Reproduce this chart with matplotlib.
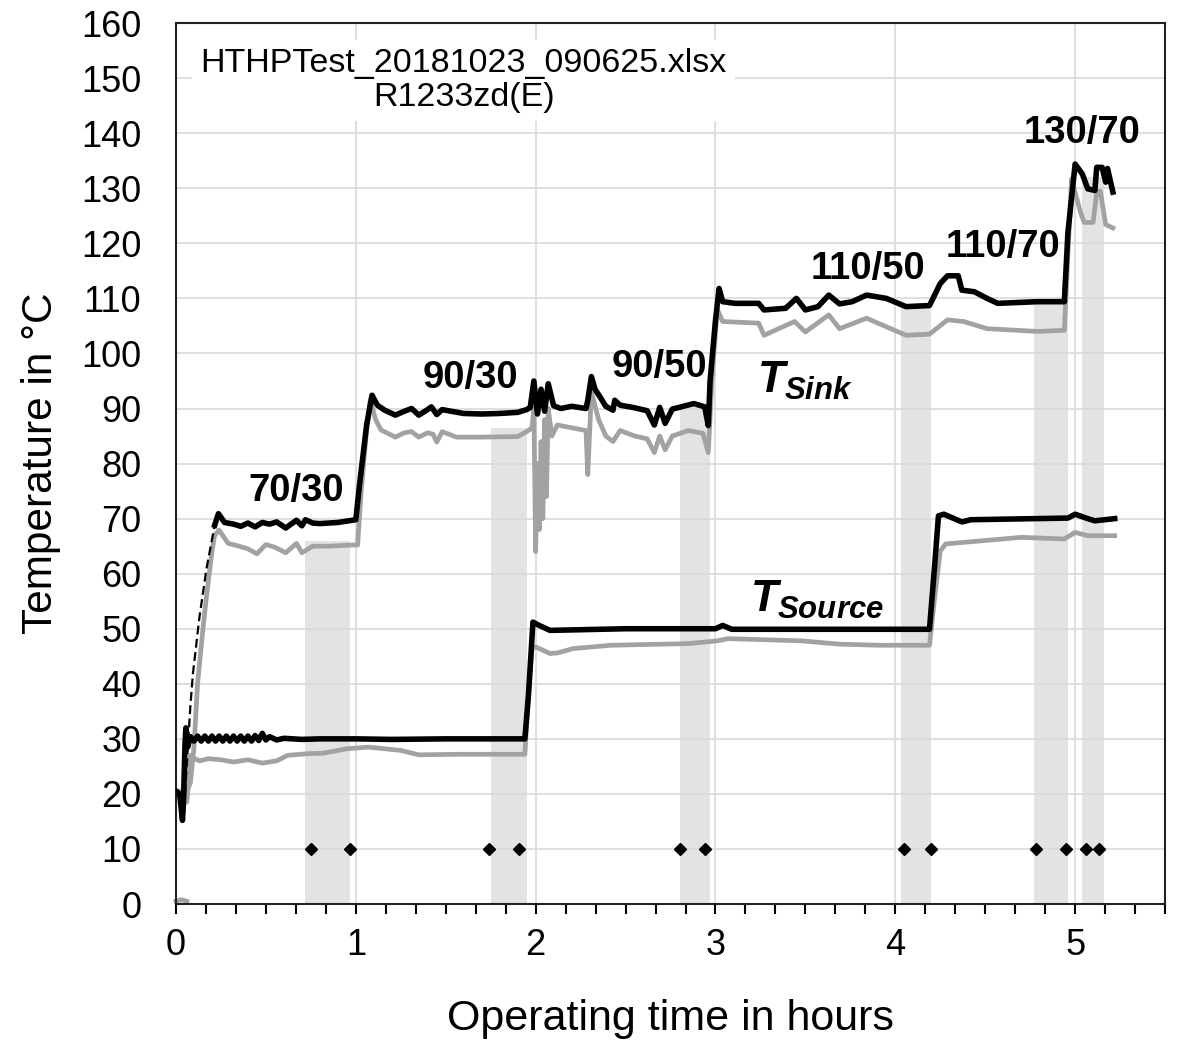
import matplotlib
matplotlib.use("Agg")
import matplotlib.pyplot as plt
from matplotlib.ticker import MultipleLocator
import numpy as np

sink_out = [(0.215, 68.8), (0.236, 70.9), (0.27, 69.3), (0.32, 69.0), (0.36, 68.6), (0.40, 69.2),
            (0.44, 68.5), (0.48, 69.3), (0.52, 69.0), (0.56, 69.4), (0.61, 68.3), (0.64, 69.0),
            (0.67, 69.7), (0.70, 68.7), (0.72, 69.8), (0.76, 69.2), (0.80, 69.1), (0.90, 69.3),
            (0.98, 69.7), (1.00, 69.8), (1.02, 76.0), (1.06, 87.0), (1.09, 92.4), (1.12, 90.6),
            (1.16, 89.7), (1.22, 88.8), (1.27, 89.5), (1.31, 90.0), (1.35, 88.8), (1.39, 89.6),
            (1.42, 90.3), (1.45, 88.9), (1.48, 89.8), (1.53, 89.5), (1.60, 89.1), (1.70, 89.0),
            (1.80, 89.1), (1.90, 89.3), (1.95, 89.8), (1.97, 90.2), (1.99, 95.0), (2.01, 89.0),
            (2.03, 93.5), (2.05, 89.5), (2.07, 94.5), (2.10, 90.5), (2.14, 90.0), (2.20, 90.4),
            (2.28, 90.0), (2.29, 91.5), (2.31, 95.8), (2.33, 93.5), (2.36, 92.0), (2.39, 90.4),
            (2.43, 89.7), (2.44, 91.5), (2.47, 90.6), (2.54, 90.2), (2.62, 89.6), (2.66, 87.0),
            (2.69, 90.2), (2.72, 87.3), (2.76, 89.9), (2.81, 90.3), (2.88, 90.9), (2.94, 90.3),
            (2.96, 86.9), (2.97, 95.0), (3.00, 106.0), (3.02, 111.8), (3.04, 109.4), (3.11, 109.1),
            (3.24, 109.1), (3.27, 107.9), (3.39, 108.2), (3.45, 110.0), (3.50, 107.9), (3.57, 108.5),
            (3.63, 110.6), (3.69, 109.0), (3.76, 109.4), (3.84, 110.6), (3.95, 110.0), (4.06, 108.5),
            (4.19, 108.7), (4.25, 112.7), (4.29, 114.1), (4.35, 114.1), (4.37, 111.5), (4.44, 111.2),
            (4.51, 110.0), (4.57, 109.1), (4.79, 109.4), (4.94, 109.4), (4.96, 122.0), (5.00, 134.4),
            (5.04, 132.6), (5.07, 129.9), (5.11, 129.6), (5.12, 133.8), (5.15, 133.8), (5.17, 131.1),
            (5.18, 133.6), (5.21, 129.3)]

sink_ramp = [(0.05, 20.0), (0.08, 36.0), (0.094, 41.8), (0.13, 52.0), (0.17, 61.0), (0.215, 68.8)]

sink_in = [(0.0, 20.5), (0.06, 20.5), (0.08, 22.0), (0.10, 28.5), (0.12, 40.0), (0.15, 50.0),
           (0.17, 56.0), (0.20, 64.0), (0.215, 67.0), (0.24, 67.9), (0.29, 65.5), (0.35, 65.0),
           (0.40, 64.5), (0.45, 63.6), (0.50, 65.3), (0.55, 64.8), (0.61, 63.8), (0.67, 65.5),
           (0.70, 63.8), (0.76, 65.0), (0.85, 65.0), (0.98, 65.2), (1.01, 65.2), (1.03, 75.0),
           (1.06, 86.0), (1.08, 91.5), (1.11, 88.0), (1.14, 86.1), (1.22, 84.8), (1.27, 85.6),
           (1.31, 85.8), (1.35, 84.8), (1.40, 85.6), (1.43, 85.3), (1.45, 83.9), (1.48, 85.8),
           (1.56, 84.8), (1.70, 84.8), (1.90, 84.9), (1.95, 85.8), (1.98, 86.5), (1.99, 90.0),
           (2.00, 64.0), (2.01, 80.0), (2.02, 68.0), (2.03, 84.0), (2.04, 70.0), (2.05, 88.0),
           (2.06, 74.0), (2.07, 90.0), (2.09, 85.0), (2.12, 87.0), (2.20, 86.5), (2.28, 86.0),
           (2.29, 78.0), (2.31, 93.0), (2.35, 88.0), (2.39, 85.0), (2.43, 84.0), (2.47, 86.0),
           (2.55, 85.0), (2.62, 84.5), (2.66, 82.0), (2.69, 85.0), (2.72, 82.5), (2.76, 85.0),
           (2.85, 86.0), (2.93, 85.5), (2.96, 82.0), (2.98, 95.0), (3.01, 108.0), (3.04, 105.8),
           (3.24, 105.5), (3.27, 103.3), (3.44, 105.8), (3.50, 103.9), (3.63, 107.0), (3.69, 104.5),
           (3.84, 106.4), (4.06, 103.3), (4.19, 103.5), (4.29, 106.1), (4.38, 105.8), (4.51, 104.5),
           (4.79, 104.0), (4.94, 104.2), (4.96, 118.0), (4.98, 131.7), (5.03, 125.6), (5.05, 123.8),
           (5.10, 123.8), (5.12, 129.3), (5.14, 129.5), (5.17, 123.4), (5.21, 122.8)]

source_in = [(0.0, 20.5), (0.02, 20.0), (0.03, 17.0), (0.036, 15.2), (0.042, 19.0), (0.05, 29.0),
             (0.055, 32.0), (0.065, 28.5), (0.08, 30.4), (0.10, 29.6), (0.12, 30.5), (0.14, 29.6),
             (0.16, 30.5), (0.18, 29.6), (0.20, 30.5), (0.22, 29.6), (0.24, 30.5), (0.26, 29.6),
             (0.28, 30.5), (0.30, 29.6), (0.32, 30.5), (0.34, 29.6), (0.36, 30.5), (0.38, 29.6),
             (0.40, 30.5), (0.42, 29.6), (0.44, 30.6), (0.46, 29.7), (0.48, 31.0), (0.50, 29.8),
             (0.52, 30.4), (0.56, 29.8), (0.60, 30.1), (0.70, 29.9), (0.80, 30.0), (1.00, 30.0),
             (1.20, 29.9), (1.50, 30.0), (1.94, 30.0), (1.96, 38.0), (1.985, 51.2), (2.02, 50.6),
             (2.08, 49.7), (2.50, 50.0), (3.00, 50.0), (3.04, 50.6), (3.09, 49.9), (4.19, 49.9),
             (4.22, 62.0), (4.24, 70.5), (4.27, 70.8), (4.32, 70.1), (4.37, 69.4), (4.42, 69.8),
             (4.96, 70.1), (5.00, 70.8), (5.07, 70.0), (5.11, 69.6), (5.22, 70.0)]

source_out = [(0.0, 20.5), (0.03, 19.5), (0.04, 16.5), (0.05, 21.0), (0.06, 18.5), (0.07, 22.0),
              (0.08, 27.0), (0.10, 26.5), (0.13, 26.0), (0.18, 26.4), (0.25, 26.2), (0.32, 25.8),
              (0.40, 26.2), (0.48, 25.6), (0.56, 26.0), (0.62, 27.0), (0.73, 27.3), (0.82, 27.4),
              (0.95, 28.2), (1.07, 28.5), (1.25, 27.9), (1.35, 27.1), (1.57, 27.2), (1.94, 27.2),
              (1.96, 38.0), (1.98, 46.5), (2.00, 46.7), (2.08, 45.5), (2.12, 45.6), (2.21, 46.4),
              (2.42, 47.0), (2.85, 47.3), (3.01, 47.8), (3.07, 48.2), (3.48, 47.8), (3.69, 47.2),
              (3.91, 47.0), (4.19, 47.0), (4.22, 56.0), (4.25, 64.1), (4.28, 65.4), (4.42, 65.8),
              (4.70, 66.6), (4.94, 66.3), (5.00, 67.5), (5.07, 66.9), (5.22, 66.9)]

offline_t = [0.0, 0.03, 0.06]
offline_v = [0.5, 0.8, 0.5]

# steady-state evaluation windows
band_start = [0.72, 1.75, 2.80, 4.03, 4.77, 5.04]
band_end = [0.97, 1.95, 2.97, 4.20, 4.96, 5.16]
band_top = [66.0, 86.5, 90.5, 109.0, 109.6, 132.0]

marker_t = [0.75, 0.97, 1.74, 1.91, 2.80, 2.94, 4.05, 4.20, 4.78, 4.95, 5.06, 5.13]
marker_v = [10] * len(marker_t)

op_labels = ["70/30", "90/30", "90/50", "110/50", "110/70", "130/70"]
op_x = [0.67, 1.64, 2.69, 3.85, 4.60, 5.04]
op_y = [75.1, 95.5, 97.6, 115.4, 119.4, 140.0]

plt.rcParams['font.family'] = ['Liberation Sans', 'DejaVu Sans']
plt.rcParams['mathtext.fontset'] = 'custom'
plt.rcParams['mathtext.it'] = 'Liberation Sans:bold:italic'
plt.rcParams['mathtext.rm'] = 'Liberation Sans:bold:italic'

fig = plt.figure(figsize=(11.78, 10.45), dpi=100)
ax = fig.add_axes([0.1494, 0.1349, 0.8396, 0.843])
ax.set_axisbelow('line')

widths = [e - s for s, e in zip(band_start, band_end)]
ax.bar(band_start, band_top, width=widths, align='edge', color='#e3e3e3', zorder=1)

grey = '#a2a2a2'
lw = 3.4
t, v = zip(*sink_in)
ax.plot(t, v, color=grey, lw=lw, zorder=2)
t, v = zip(*source_out)
ax.plot(t, v, color=grey, lw=lw, zorder=2)
ax.plot(offline_t, offline_v, color=grey, lw=lw, zorder=2, clip_on=False)
t, v = zip(*sink_ramp)
ax.plot(t, v, color='black', lw=1.6, ls=(0, (4, 2)), zorder=3)
t, v = zip(*sink_out)
ax.plot(t, v, color='black', lw=4.0, zorder=3)
t, v = zip(*source_in)
ax.plot(t, v, color='black', lw=4.0, zorder=3)

ax.plot(marker_t, marker_v, ls='none', marker='D', ms=6, color='black', zorder=4)

for lab, x, y in zip(op_labels, op_x, op_y):
    ax.text(x, y, lab, ha='center', va='center', fontsize=27.5, fontweight='bold', zorder=5)

ax.text(3.5, 95.0, r'$T_{Sink}$', ha='center', va='center', fontsize=32, zorder=5)
ax.text(3.565, 55.2, r'$T_{Source}$', ha='center', va='center', fontsize=32, zorder=5)

ax.text(1.6, 149.6, "HTHPTest_20181023_090625.xlsx\nR1233zd(E)", ha='center', va='center',
        multialignment='center', fontsize=24.5, linespacing=1.12, zorder=5,
        bbox=dict(facecolor='white', edgecolor='none', pad=6))

ax.set_xlim(0, 5.5)
ax.set_ylim(0, 160)
ax.xaxis.set_major_locator(MultipleLocator(1))
ax.xaxis.set_minor_locator(MultipleLocator(1 / 6))
ax.yaxis.set_major_locator(MultipleLocator(10))
ax.grid(True, which='major', color='#d9d9d9', lw=1.2)

ax.tick_params(axis='x', which='both', direction='out', length=7, width=1.5, color='black')
ax.tick_params(axis='x', which='major', labelsize=26, pad=10)
ax.tick_params(axis='y', which='both', length=0, labelsize=26, pad=25)
for s in ax.spines.values():
    s.set_color('#222222')
    s.set_linewidth(1.5)

ax.set_xlabel("Operating time in hours", fontsize=31, labelpad=26)
ax.set_ylabel("Temperature in °C", fontsize=30.5, labelpad=14)

fig.savefig("out.png", dpi=100)
